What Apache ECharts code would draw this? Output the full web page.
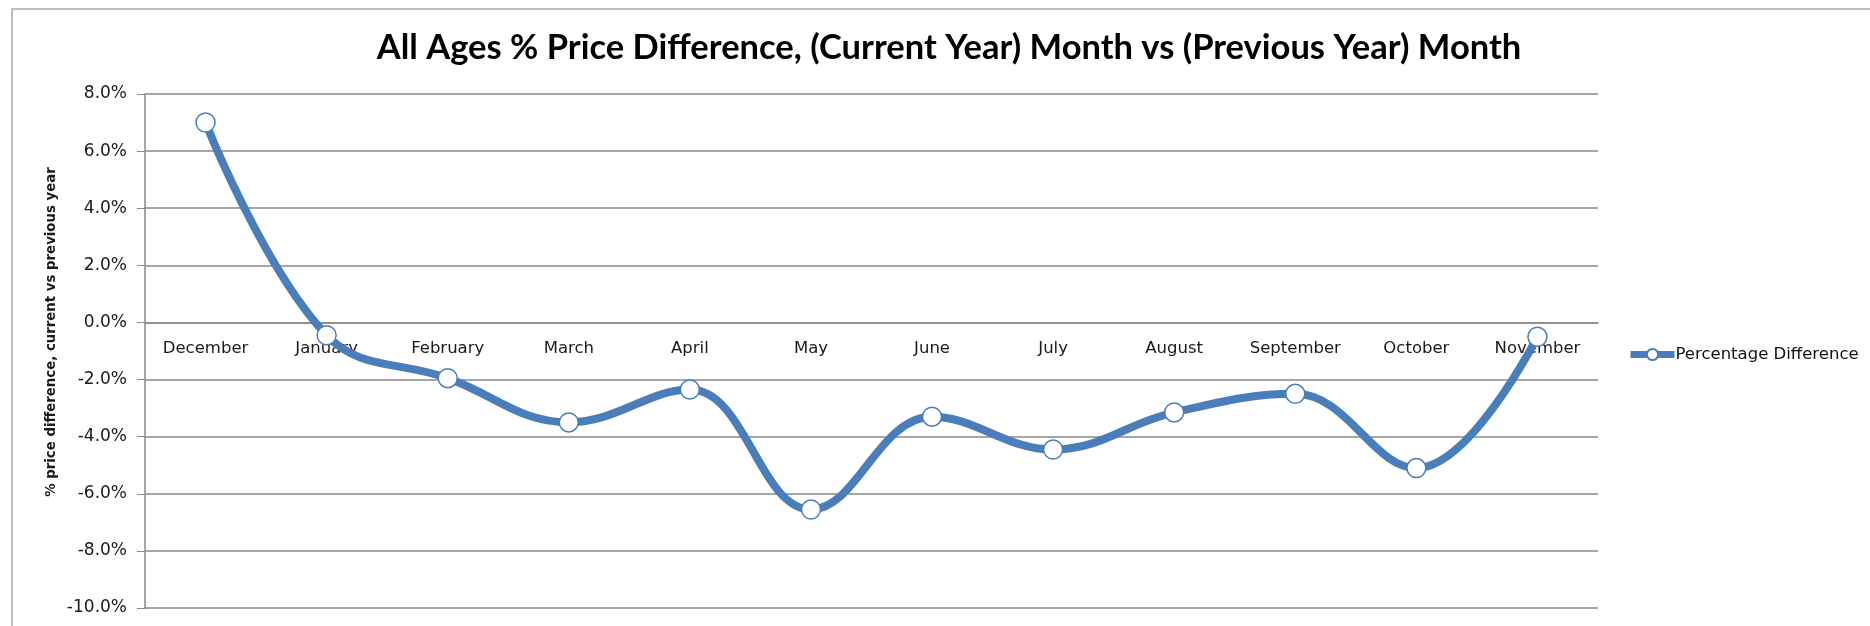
<!DOCTYPE html>
<html>
<head>
<meta charset="utf-8">
<script src="https://cdn.jsdelivr.net/npm/echarts@6/dist/echarts.min.js"></script>
<style>
html,body{margin:0;padding:0;background:#fff;}
#chart{width:1870px;height:626px;}
</style>
</head>
<body>
<div id="chart"></div>
<script>
const titleText = 'All Ages % Price Difference, (Current Year) Month vs (Previous Year) Month';
const yAxisTitle = '% price difference, current vs previous year';
const seriesName = 'Percentage Difference';
const months = ['December','January','February','March','April','May','June','July','August','September','October','November'];
const pctDiff = [7.0, -0.45, -1.95, -3.5, -2.35, -6.55, -3.3, -4.45, -3.15, -2.5, -5.1, -0.5];
const yMin = -10, yMax = 8, yStep = 2;

const TITLE_FONT = 'Lato, "Open Sans", sans-serif';
const FONT = '"DejaVu Sans", Verdana, sans-serif';
const gridTop = 94, gridBottom = 18, H = 626;
const plotH = H - gridTop - gridBottom;
// place category axis at value 0 (like Excel's crossing axis)
const zeroOffset = -((0 - yMin) / (yMax - yMin)) * plotH;

const chart = echarts.init(document.getElementById('chart'), null, {renderer:'canvas'});
chart.setOption({
  animation: false,
  backgroundColor: '#fff',
  title: {
    text: titleText,
    left: 944, top: 25, textAlign: 'center',
    textStyle: {fontFamily: TITLE_FONT, fontWeight: 'bold', fontSize: 34.5, color: '#000'}
  },
  legend: {
    data: [seriesName],
    left: 1622, top: 341,
    itemWidth: 44, itemHeight: 14, itemGap: 5,
    lineStyle: {width: 7},
    textStyle: {fontFamily: FONT, fontSize: 16.5, color: '#111', padding: [0,0,0,-4]}
  },
  grid: {left: 145, right: 272, top: gridTop, bottom: gridBottom, containLabel: false},
  xAxis: {
    type: 'category',
    data: months,
    boundaryGap: true,
    offset: zeroOffset,
    axisLine: {show: true, onZero: false, lineStyle: {color: '#898989', width: 1.5}},
    axisTick: {show: false},
    axisLabel: {fontFamily: FONT, fontSize: 16.5, color: '#1a1a1a', margin: 18},
    splitLine: {show: false}
  },
  yAxis: {
    type: 'value',
    min: yMin, max: yMax, interval: yStep,
    axisLine: {show: true, lineStyle: {color: '#898989', width: 1.5}},
    axisTick: {show: true, length: 8, inside: false, lineStyle: {color: '#898989'}},
    axisLabel: {fontFamily: FONT, fontSize: 17, color: '#1a1a1a', margin: 18,
      formatter: v => v.toFixed(1) + '%'},
    splitLine: {show: true, lineStyle: {color: '#898989', width: 1.5}}
  },
  graphic: [
    {type: 'rect', z: -1, shape: {x: 12, y: 9, width: 1900, height: 700},
     style: {fill: 'none', stroke: '#a8a8a8', lineWidth: 1.5}},
    {type: 'text', x: 52, y: 332, rotation: Math.PI / 2,
     style: {text: yAxisTitle, fontFamily: FONT, fontWeight: 'bold', fontSize: 13.3,
       fill: '#1a1a1a', textAlign: 'center', textVerticalAlign: 'middle', verticalAlign: 'middle'}}
  ],
  series: [{
    name: seriesName,
    type: 'line',
    data: pctDiff,
    smooth: 0.4,
    symbol: 'circle',
    symbolSize: 19,
    lineStyle: {color: '#4a7ebb', width: 8},
    itemStyle: {color: '#ffffff', borderColor: '#4a7ebb', borderWidth: 1.5},
    z: 3
  }]
});
</script>
</body>
</html>
